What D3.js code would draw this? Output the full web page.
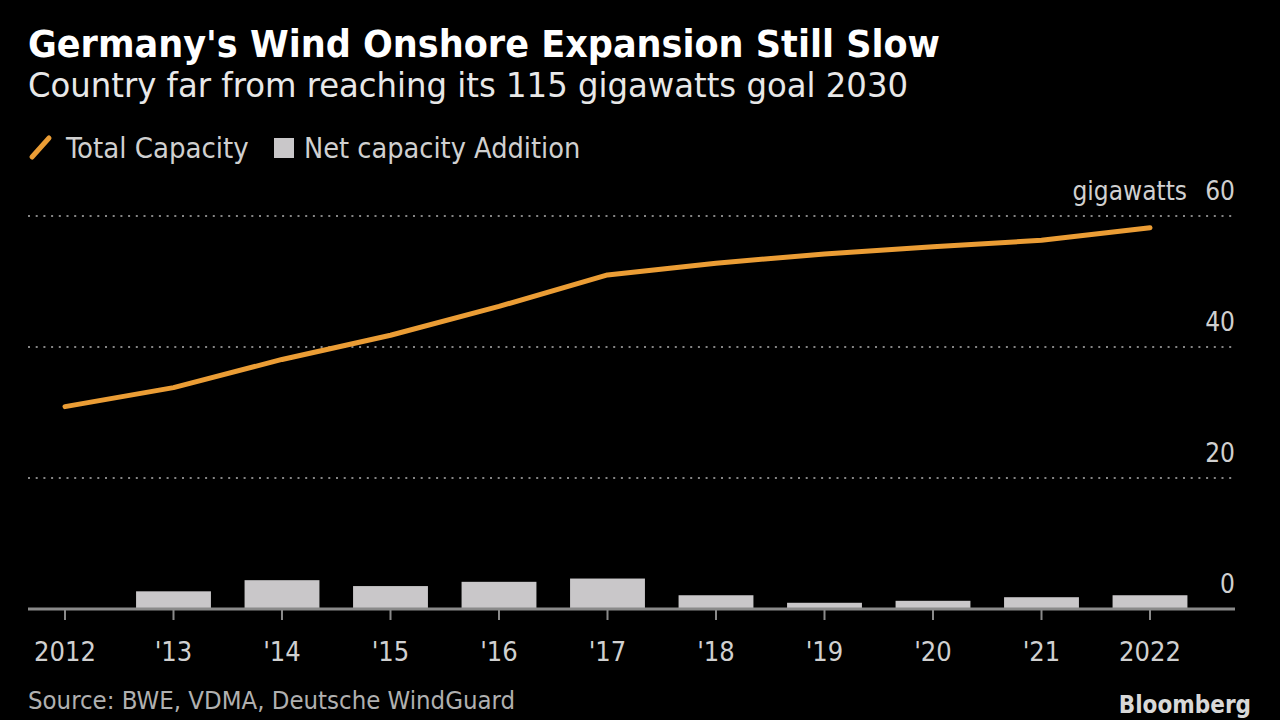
<!DOCTYPE html>
<html>
<head>
<meta charset="utf-8">
<script src="https://cdn.jsdelivr.net/npm/d3@7"></script>
<style>
  html, body { margin: 0; padding: 0; background: #000; }
  svg { display: block; }
  text { font-family: "DejaVu Sans Condensed", "Liberation Sans Narrow", "DejaVu Sans", sans-serif; }
</style>
</head>
<body>
<svg id="chart" width="1280" height="720"></svg>
<script>
// ---- data ----
const years = ["2012", "2013", "2014", "2015", "2016", "2017", "2018", "2019", "2020", "2021", "2022"];
const yearLabels = ["2012", "'13", "'14", "'15", "'16", "'17", "'18", "'19", "'20", "'21", "2022"];
const totalCapacity = [30.9, 33.8, 38.1, 41.8, 46.2, 51.0, 52.8, 54.2, 55.3, 56.3, 58.2];
const netAddition = [null, 2.7, 4.4, 3.5, 4.15, 4.65, 2.1, 0.95, 1.25, 1.8, 2.1];
const yTicks = [0, 20, 40, 60];

const svg = d3.select("#chart");
svg.append("rect").attr("width", 1280).attr("height", 720).attr("fill", "#000");

const x = d3.scaleBand().domain(years).range([10.75, 1204.25]).paddingInner(0.31).paddingOuter(0.155);
const y = d3.scaleLinear().domain([0, 60]).range([609, 216]);

const gridLeft = 28, gridRight = 1235;

// gridlines
svg.append("g").selectAll("line").data(yTicks.filter(d => d !== 0)).join("line")
  .attr("x1", gridLeft).attr("x2", gridRight)
  .attr("y1", d => y(d)).attr("y2", d => y(d))
  .attr("stroke", "#858585").attr("stroke-width", 2)
  .attr("stroke-dasharray", "2,5.7");

// y labels
svg.append("g").selectAll("text").data(yTicks).join("text")
  .attr("x", 1235).attr("y", d => y(d) - 16)
  .attr("text-anchor", "end")
  .attr("fill", "#d0d0d0").attr("font-size", 26)
  .text(d => d);
svg.append("text").attr("x", 1187).attr("y", y(60) - 16)
  .attr("text-anchor", "end").attr("fill", "#d0d0d0").attr("font-size", 26)
  .text("gigawatts");

// bars
svg.append("g").selectAll("rect").data(years.map((yr, i) => ({yr, v: netAddition[i]})).filter(d => d.v != null)).join("rect")
  .attr("x", d => x(d.yr)).attr("width", x.bandwidth())
  .attr("y", d => y(d.v)).attr("height", d => y(0) - y(d.v))
  .attr("fill", "#c9c7c9");

// baseline
svg.append("line").attr("x1", gridLeft).attr("x2", gridRight)
  .attr("y1", y(0)).attr("y2", y(0))
  .attr("stroke", "#8a8a8a").attr("stroke-width", 3);

// x ticks & labels
const cx = d => x(d) + x.bandwidth() / 2;
svg.append("g").selectAll("line").data(years).join("line")
  .attr("x1", cx).attr("x2", cx).attr("y1", y(0)).attr("y2", y(0) + 11)
  .attr("stroke", "#8a8a8a").attr("stroke-width", 2);
svg.append("g").selectAll("text").data(years).join("text")
  .attr("x", cx).attr("y", 661)
  .attr("text-anchor", "middle").attr("fill", "#d0d0d0").attr("font-size", 27)
  .text((d, i) => yearLabels[i]);

// line
const line = d3.line().x((d, i) => cx(years[i])).y(d => y(d));
svg.append("path").datum(totalCapacity)
  .attr("d", line).attr("fill", "none")
  .attr("stroke", "#eb9d35").attr("stroke-width", 5)
  .attr("stroke-linecap", "round").attr("stroke-linejoin", "round");

// title
svg.append("text").attr("x", 28).attr("y", 57)
  .attr("fill", "#ffffff").attr("font-size", 37).attr("font-weight", "bold")
  .attr("textLength", 912).attr("lengthAdjust", "spacingAndGlyphs")
  .text("Germany's Wind Onshore Expansion Still Slow");
svg.append("text").attr("x", 28).attr("y", 97)
  .attr("fill", "#e8e8e8").attr("font-size", 34)
  .attr("textLength", 880).attr("lengthAdjust", "spacingAndGlyphs")
  .text("Country far from reaching its 115 gigawatts goal 2030");

// legend
svg.append("line").attr("x1", 32).attr("y1", 157).attr("x2", 49).attr("y2", 138)
  .attr("stroke", "#eb9d35").attr("stroke-width", 5).attr("stroke-linecap", "round");
svg.append("text").attr("x", 66).attr("y", 158)
  .attr("fill", "#d0d0d0").attr("font-size", 29).text("Total Capacity");
svg.append("rect").attr("x", 274).attr("y", 138).attr("width", 20).attr("height", 20).attr("fill", "#c9c7c9");
svg.append("text").attr("x", 304).attr("y", 158)
  .attr("fill", "#d0d0d0").attr("font-size", 28.6).text("Net capacity Addition");

// source
svg.append("text").attr("x", 28).attr("y", 709)
  .attr("fill", "#b0b0b0").attr("font-size", 25.5)
  .text("Source: BWE, VDMA, Deutsche WindGuard");
svg.append("text").attr("x", 1251).attr("y", 713).attr("text-anchor", "end")
  .attr("fill", "#d8d8d8").attr("font-size", 24).attr("font-weight", "bold")
  .text("Bloomberg");
</script>
</body>
</html>
